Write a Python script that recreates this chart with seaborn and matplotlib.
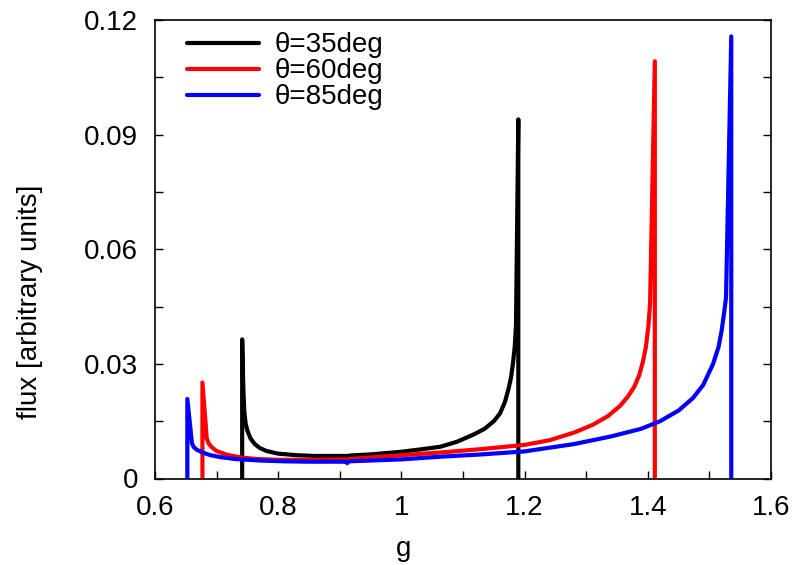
import numpy as np
import pandas as pd
import matplotlib
matplotlib.use('Agg')
import matplotlib.pyplot as plt
import seaborn as sns
from matplotlib.ticker import MultipleLocator

# =========================
# DATA
# =========================

g_35 = [0.7415, 0.7415, 0.7435, 0.745, 0.747, 0.750, 0.755, 0.762, 0.770, 0.781,
        0.80, 0.83, 0.86, 0.910, 0.912, 0.915, 0.95, 1.00, 1.03, 1.063,
        1.09, 1.117, 1.135, 1.150, 1.160, 1.168, 1.174, 1.178, 1.181, 1.184,
        1.186, 1.1898, 1.1898]
flux_35 = [0.0, 0.0364, 0.0230, 0.0175, 0.0145, 0.0125, 0.0105, 0.0090, 0.0080, 0.0072,
           0.0065, 0.0061, 0.0059, 0.0059, 0.0056, 0.0060, 0.0063, 0.0070, 0.0076, 0.0083,
           0.0096, 0.0115, 0.0130, 0.0150, 0.0170, 0.0200, 0.0235, 0.0265, 0.0300, 0.0345,
           0.0400, 0.0940, 0.0]

g_60 = [0.677, 0.677, 0.684, 0.687, 0.692, 0.700, 0.717, 0.740, 0.765, 0.80,
        0.85, 0.910, 0.912, 0.915, 1.00, 1.063, 1.13, 1.20, 1.24, 1.28,
        1.31, 1.335, 1.355, 1.368, 1.378, 1.386, 1.392, 1.397, 1.401, 1.4037,
        1.4114, 1.4114]
flux_60 = [0.0, 0.0251, 0.0105, 0.0092, 0.0082, 0.0072, 0.0062, 0.0055, 0.0051, 0.0049,
           0.0049, 0.0050, 0.0047, 0.0051, 0.0061, 0.0068, 0.0077, 0.0088, 0.0100, 0.0120,
           0.0140, 0.0163, 0.0190, 0.0215, 0.0240, 0.0270, 0.0305, 0.0345, 0.0400, 0.0458,
           0.1092, 0.0]

g_85 = [0.6525, 0.6525, 0.660, 0.663, 0.668, 0.679, 0.690, 0.706, 0.730, 0.771,
        0.81, 0.85, 0.910, 0.912, 0.915, 1.00, 1.063, 1.13, 1.20, 1.28,
        1.34, 1.389, 1.42, 1.45, 1.473, 1.490, 1.506, 1.515, 1.520, 1.524,
        1.527, 1.5355, 1.5355]
flux_85 = [0.0, 0.0208, 0.0092, 0.0082, 0.0075, 0.0067, 0.0061, 0.0056, 0.0051, 0.0047,
           0.0045, 0.0044, 0.0044, 0.0040, 0.0045, 0.0050, 0.0057, 0.0063, 0.0071, 0.0090,
           0.0110, 0.0130, 0.0150, 0.0178, 0.0210, 0.0245, 0.0300, 0.0345, 0.0388, 0.0435,
           0.0474, 0.1157, 0.0]

labels = ['θ=35deg', 'θ=60deg', 'θ=85deg']
colors = ['#000000', '#ff0000', '#0000ff']

x_ticks = [0.6, 0.8, 1.0, 1.2, 1.4, 1.6]
x_tick_labels = ['0.6', '0.8', '1', '1.2', '1.4', '1.6']
y_ticks = [0, 0.03, 0.06, 0.09, 0.12]
y_tick_labels = ['0', '0.03', '0.06', '0.09', '0.12']

# =========================
# BUILD TABLE
# =========================

frames = []
for lab, gx, fy in zip(labels, [g_35, g_60, g_85], [flux_35, flux_60, flux_85]):
    frames.append(pd.DataFrame({'g': gx, 'flux': fy, 'theta': lab}))
df = pd.concat(frames, ignore_index=True)

# =========================
# PLOT
# =========================

sns.set_style('ticks')
plt.rcParams['font.family'] = ['Liberation Sans', 'DejaVu Sans']
plt.rcParams['text.color'] = 'black'
plt.rcParams['axes.labelcolor'] = 'black'
plt.rcParams['xtick.color'] = 'black'
plt.rcParams['ytick.color'] = 'black'
FS = 20

fig = plt.figure(figsize=(7.97, 5.65), dpi=100)
ax = fig.add_axes([155 / 797, 1 - 478.5 / 565, 616 / 797, 458.5 / 565])

sns.lineplot(
    data=df, x='g', y='flux', hue='theta', hue_order=labels,
    palette=colors, sort=False, estimator=None, linewidth=3,
    legend=False, ax=ax
)

ax.set_xlim(0.6, 1.6)
ax.set_ylim(0, 0.12)
ax.set_xticks(x_ticks)
ax.set_xticklabels(x_tick_labels)
ax.set_yticks(y_ticks)
ax.set_yticklabels(y_tick_labels)
ax.xaxis.set_minor_locator(MultipleLocator(0.1))
ax.yaxis.set_minor_locator(MultipleLocator(0.015))

ax.tick_params(axis='both', which='both', direction='in', length=6, width=1,
               color='black', labelcolor='black', labelsize=FS)
ax.tick_params(axis='y', which='both', right=True, pad=12)
ax.tick_params(axis='x', which='both', top=False, pad=12)

for side in ['top', 'bottom', 'left', 'right']:
    ax.spines[side].set_visible(True)
    ax.spines[side].set_linewidth(1.2)
    ax.spines[side].set_color('black')

ax.set_xlabel('g', fontsize=FS, color='black')
ax.set_ylabel('flux [arbitrary units]', fontsize=FS, color='black')
ax.xaxis.set_label_coords(0.404, -0.126)
ax.yaxis.set_label_coords(-0.182, 0.385)

leg = ax.legend(ax.lines, labels, loc='upper left', bbox_to_anchor=(0.0515, 0.973),
                frameon=False, fontsize=FS, handlelength=2.6, handletextpad=0.55,
                labelspacing=0.0, borderpad=0.0, borderaxespad=0.0)
for t in leg.get_texts():
    t.set_color('black')

fig.savefig('out.png', dpi=100)
plt.close(fig)
